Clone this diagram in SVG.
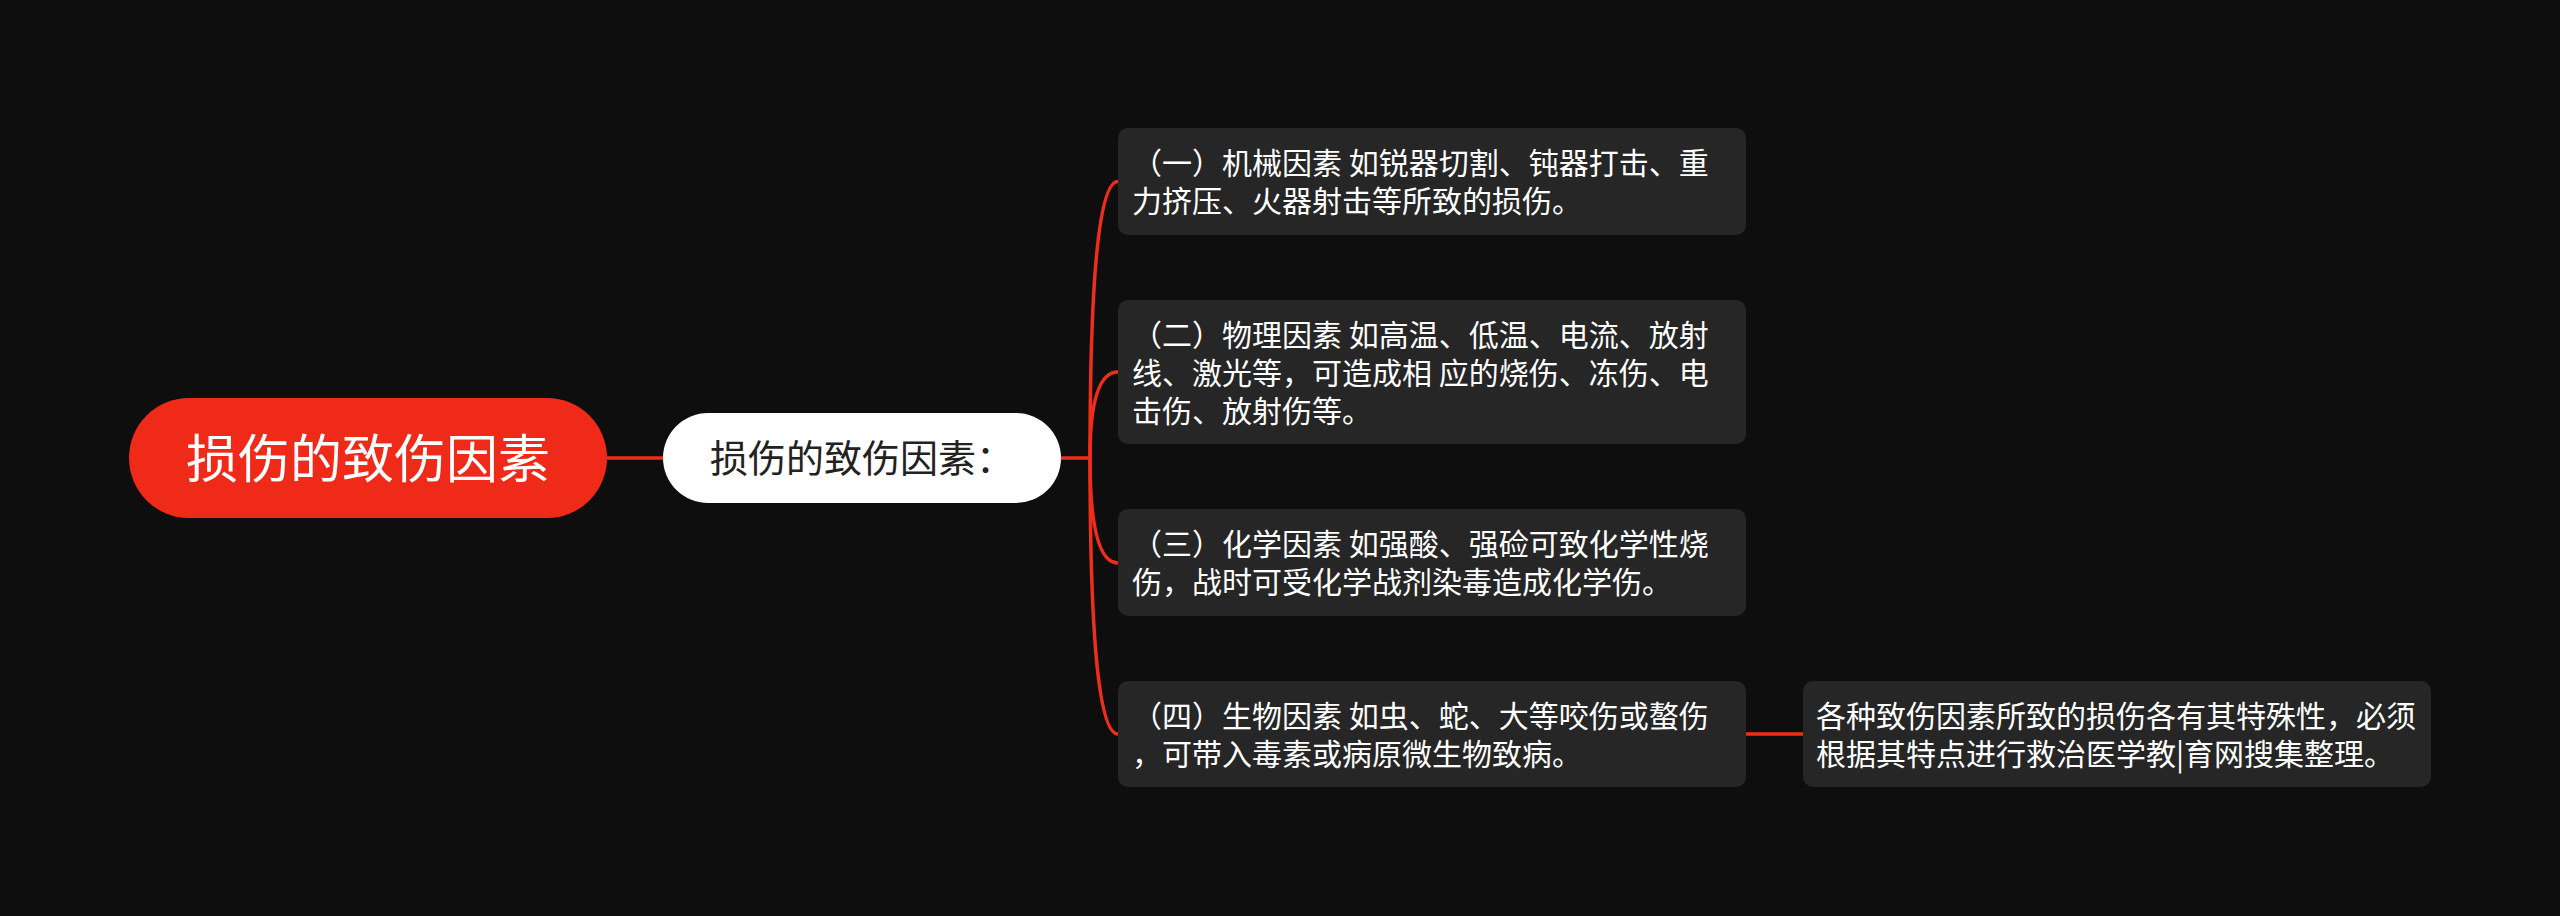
<svg xmlns="http://www.w3.org/2000/svg" width="2560" height="916" viewBox="0 0 2560 916">
<style>
.bg{fill:#0e0e0e}
.link{fill:none;stroke:#ef2d1b;stroke-width:3.5}
.card{fill:#262626}
.t{font-family:"Noto Sans CJK SC","Noto Sans",sans-serif;fill:#ffffff}
.ct{font-size:30px}
</style>
<rect class="bg" x="0" y="0" width="2560" height="916"/>
<g id="connectors">
<path class="link" d="M607 458 L663 458"/>
<path class="link" d="M1061 458 L1090 458"/>
<path class="link" d="M1090 458 Q1090 181.5 1118 181.5"/>
<path class="link" d="M1090 458 Q1090 372 1118 372"/>
<path class="link" d="M1090 458 Q1090 563 1118 563"/>
<path class="link" d="M1090 458 Q1090 734 1118 734"/>
<path class="link" d="M1746 734 L1803 734"/>
</g>
<g id="root">
<rect x="129" y="398" width="478" height="120" rx="60" fill="#ef2a19"/>
<text class="t" x="368" y="478" font-size="52" text-anchor="middle">损伤的致伤因素</text>
</g>
<g id="main">
<rect x="663" y="413" width="398" height="90" rx="45" fill="#ffffff"/>
<text class="t" x="862" y="472" font-size="38" text-anchor="middle" style="fill:#222222">损伤的致伤因素：</text>
</g>
<g id="c1">
<rect class="card" x="1118" y="128" width="628" height="107" rx="10"/>
<text class="t ct" x="1132" y="174">（一）机械因素 如锐器切割、钝器打击、重</text>
<text class="t ct" x="1132" y="212">力挤压、火器射击等所致的损伤。</text>
</g>
<g id="c2">
<rect class="card" x="1118" y="300" width="628" height="144" rx="10"/>
<text class="t ct" x="1132" y="346">（二）物理因素 如高温、低温、电流、放射</text>
<text class="t ct" x="1132" y="384">线、激光等，可造成相 应的烧伤、冻伤、电</text>
<text class="t ct" x="1132" y="422">击伤、放射伤等。</text>
</g>
<g id="c3">
<rect class="card" x="1118" y="509" width="628" height="107" rx="10"/>
<text class="t ct" x="1132" y="555">（三）化学因素 如强酸、强硷可致化学性烧</text>
<text class="t ct" x="1132" y="593">伤，战时可受化学战剂染毒造成化学伤。</text>
</g>
<g id="c4">
<rect class="card" x="1118" y="681" width="628" height="106" rx="10"/>
<text class="t ct" x="1132" y="727">（四）生物因素 如虫、蛇、大等咬伤或螯伤</text>
<text class="t ct" x="1132" y="765">，可带入毒素或病原微生物致病。</text>
</g>
<g id="leaf">
<rect class="card" x="1803" y="681" width="628" height="106" rx="10"/>
<text class="t ct" x="1816" y="727">各种致伤因素所致的损伤各有其特殊性，必须</text>
<text class="t ct" x="1816" y="765">根据其特点进行救治医学教|育网搜集整理。</text>
</g>
</svg>
